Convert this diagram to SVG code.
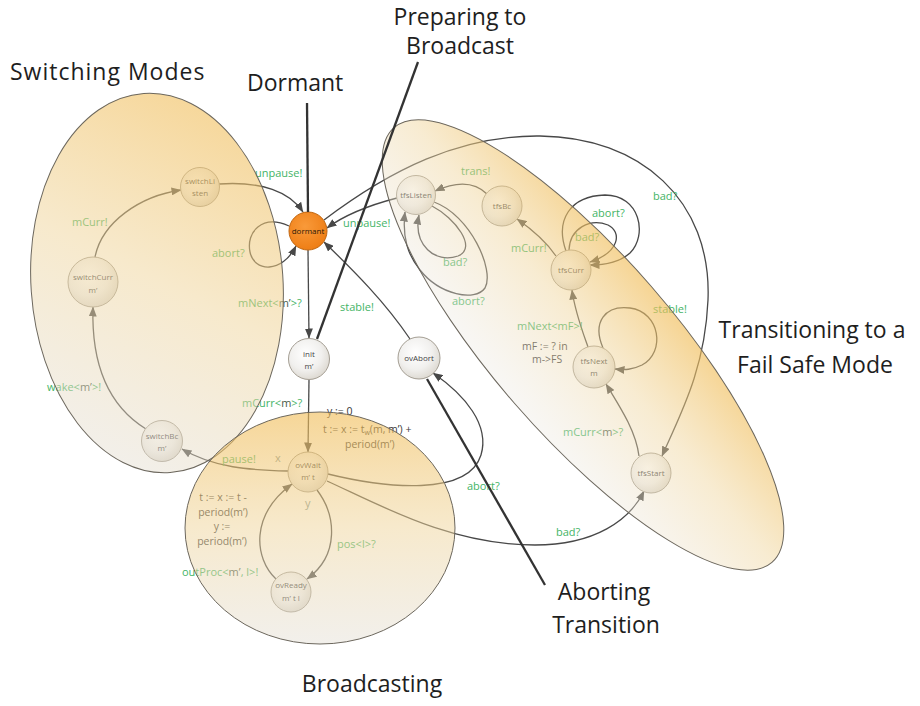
<svg xmlns="http://www.w3.org/2000/svg" width="920" height="706" viewBox="0 0 920 706">
  <defs>
    <style>
      text { font-family: "Open Sans", "DejaVu Sans", sans-serif; }
      .edge { fill: none; stroke: #484848; stroke-width: 1.3; marker-end: url(#arrow); }
      .lbl { font-size: 11px; fill: #44b466; }
      .dk { fill: #4a5a4a; }
      .gray { fill: #7f9696; }
      .upd { font-size: 10.5px; fill: #383838; }
      .node circle { fill: url(#nodeFill); stroke: #a49e93; stroke-width: 1; }
      .node text { font-size: 8px; fill: #454545; text-anchor: middle; }
      .region { stroke: #6c675d; stroke-width: 1; }
      .pointer { stroke: #333333; stroke-width: 2.3; fill: none; }
      .title { font-size: 23px; fill: #1e1e1e; }
    </style>
    <marker id="arrow" viewBox="0 0 10 8" refX="9.5" refY="4" markerWidth="10" markerHeight="8" markerUnits="userSpaceOnUse" orient="auto">
      <path d="M0,0 L10,4 L0,8 z" fill="#484848"/>
    </marker>
    <radialGradient id="nodeFill" cx="0.42" cy="0.38" r="0.65">
      <stop offset="0" stop-color="#ffffff"/>
      <stop offset="0.6" stop-color="#f1f0ee"/>
      <stop offset="1" stop-color="#dcd8d0"/>
    </radialGradient>
    <radialGradient id="dormantFill" cx="0.42" cy="0.38" r="0.65">
      <stop offset="0" stop-color="#f99a3a"/>
      <stop offset="1" stop-color="#ee7d14"/>
    </radialGradient>
    <linearGradient id="gSwitch" x1="0.7" y1="0" x2="0.3" y2="1">
      <stop offset="0" stop-color="#f1bd58" stop-opacity="0.62"/>
      <stop offset="0.5" stop-color="#efd49a" stop-opacity="0.5"/>
      <stop offset="1" stop-color="#e2ddd3" stop-opacity="0.45"/>
    </linearGradient>
    <linearGradient id="gBroad" x1="0.5" y1="0" x2="0.5" y2="1">
      <stop offset="0" stop-color="#f1bd58" stop-opacity="0.62"/>
      <stop offset="0.5" stop-color="#efd49a" stop-opacity="0.5"/>
      <stop offset="1" stop-color="#e2ddd3" stop-opacity="0.45"/>
    </linearGradient>
    <linearGradient id="gTfs" x1="0.55" y1="0" x2="0.45" y2="1">
      <stop offset="0" stop-color="#f1bd58" stop-opacity="0.65"/>
      <stop offset="0.45" stop-color="#efd49a" stop-opacity="0.45"/>
      <stop offset="1" stop-color="#ebe8e2" stop-opacity="0.35"/>
    </linearGradient>
  </defs>

  <rect width="920" height="706" fill="#ffffff"/>

  <!-- transitions -->
  <g id="connectors">
    <path class="edge" d="M219,184 C262,181 290,192 303,212"/>
    <path class="edge" d="M289,226 C262,214 246,232 250,252 C254,272 282,274 296,246"/>
    <path class="edge" d="M95,257 C102,222 140,196 181,190"/>
    <path class="edge" d="M146,429 C112,408 91,370 93,307"/>
    <path class="edge" d="M288,471 C250,470 214,468 182,449"/>
    <path class="edge" d="M308,250 L309,338"/>
    <path class="edge" d="M309,380 L308,452"/>
    <path class="edge" d="M317,490 C336,515 340,555 307,579"/>
    <path class="edge" d="M276,579 C254,558 250,515 292,484"/>
    <path class="edge" d="M328,474 C385,488 468,497 481,455 C490,425 465,395 433,373"/>
    <path class="edge" d="M327,481 C380,505 450,545 535,545 C595,545 630,520 644,491"/>
    <path class="edge" d="M410,339 C385,302 355,272 324,242"/>
    <path class="edge" d="M397,198 C370,205 346,214 327,228"/>
    <path class="edge" d="M324,220 C390,170 460,135 540,136 C640,137 712,200 708,300 C705,370 680,415 662,456"/>
    <path class="edge" d="M487,194 C474,181 455,182 435,191"/>
    <path class="edge" d="M556,256 C545,240 530,228 517,219"/>
    <path class="edge" d="M432,206 C455,218 478,248 458,256 C435,264 413,245 419,215"/>
    <path class="edge" d="M434,202 C470,215 495,270 485,288 C475,302 440,295 420,270 C408,255 402,238 405,212"/>
    <path class="edge" d="M569,250 C570,228 590,218 608,225 C622,232 620,252 590,262"/>
    <path class="edge" d="M566,251 C555,220 570,196 605,195 C640,195 648,235 630,253 C620,262 605,265 590,265"/>
    <path class="edge" d="M588,347 C582,330 575,312 572,290"/>
    <path class="edge" d="M603,348 C592,322 605,305 630,308 C660,312 666,352 642,365 C632,370 625,370 615,369"/>
    <path class="edge" d="M639,456 C636,432 622,410 606,384"/>
  </g>

  <!-- transition labels and updates -->
  <g id="edge-labels">
    <text class="lbl" x="255" y="177">unpause!</text>
    <text class="lbl" x="212" y="257">abort?</text>
    <text class="lbl" x="72" y="226">mCurr!</text>
    <text class="lbl" x="47" y="391">wake&lt;<tspan class="dk">m’</tspan>&gt;!</text>
    <text class="lbl" x="238" y="307">mNext&lt;<tspan class="dk">m’</tspan>&gt;?</text>
    <text class="lbl" x="242" y="407">mCurr&lt;<tspan class="dk">m</tspan>&gt;?</text>
    <text class="lbl" x="222" y="463">pause!</text>
    <text class="lbl gray" x="275" y="462">x</text>
    <text class="lbl gray" x="305" y="507">y</text>
    <text class="lbl" x="337" y="548">pos&lt;l&gt;?</text>
    <text class="lbl" x="182" y="576">outProc&lt;<tspan class="dk">m’</tspan>, l&gt;!</text>
    <text class="lbl" x="340" y="311">stable!</text>
    <text class="lbl" x="343" y="227">unpause!</text>
    <text class="lbl" x="467" y="490">abort?</text>
    <text class="lbl" x="556" y="536">bad?</text>
    <text class="lbl" x="653" y="200">bad?</text>
    <text class="lbl" x="461" y="175">trans!</text>
    <text class="lbl" x="511" y="252">mCurr!</text>
    <text class="lbl" x="443" y="266">bad?</text>
    <text class="lbl" x="452" y="305">abort?</text>
    <text class="lbl" x="592" y="217">abort?</text>
    <text class="lbl" x="575" y="241">bad?</text>
    <text class="lbl" x="517" y="330">mNext&lt;mF&gt;!</text>
    <text class="lbl" x="653" y="313">stable!</text>
    <text class="lbl" x="563" y="436">mCurr&lt;<tspan class="dk">m</tspan>&gt;?</text>

    <text class="upd" x="327" y="415">y := 0</text>
    <text class="upd" x="323" y="433">t := x := t<tspan font-size="7" dy="2">w</tspan><tspan dy="-2">(m, m’) +</tspan></text>
    <text class="upd" x="345" y="448">period(m’)</text>
    <text class="upd" text-anchor="middle" x="223" y="501">t := x := t -</text>
    <text class="upd" text-anchor="middle" x="223" y="516">period(m’)</text>
    <text class="upd" text-anchor="middle" x="222" y="530">y :=</text>
    <text class="upd" text-anchor="middle" x="222" y="545">period(m’)</text>
    <text class="upd" x="522" y="350">mF := ? in</text>
    <text class="upd" x="532" y="363">m-&gt;FS</text>
  </g>

  <!-- states -->
  <g id="dormant" class="node">
    <circle cx="308" cy="231" r="19" style="fill:url(#dormantFill);stroke:#c0650e"/>
    <text x="308" y="234" style="fill:#2a1a0a">dormant</text>
  </g>
  <g id="switchListen" class="node">
    <circle cx="200" cy="187" r="19.5"/>
    <text x="200" y="184">switchLi</text>
    <text x="200" y="196">sten</text>
  </g>
  <g id="switchCurr" class="node">
    <circle cx="93" cy="282" r="25"/>
    <text x="93" y="280">switchCurr</text>
    <text x="93" y="293">m’</text>
  </g>
  <g id="switchBc" class="node">
    <circle cx="162" cy="441" r="20.5"/>
    <text x="162" y="439">switchBc</text>
    <text x="162" y="451">m’</text>
  </g>
  <g id="init" class="node">
    <circle cx="309" cy="359" r="20.5"/>
    <text x="309" y="357">init</text>
    <text x="309" y="369">m’</text>
  </g>
  <g id="ovAbort" class="node">
    <circle cx="419" cy="358" r="21"/>
    <text x="419" y="361">ovAbort</text>
  </g>
  <g id="ovWait" class="node">
    <circle cx="308" cy="472" r="20"/>
    <text x="308" y="468">ovWait</text>
    <text x="308" y="480">m’ t</text>
  </g>
  <g id="ovReady" class="node">
    <circle cx="291" cy="592" r="20"/>
    <text x="291" y="588">ovReady</text>
    <text x="291" y="601">m’ t l</text>
  </g>
  <g id="tfsListen" class="node">
    <circle cx="416" cy="195" r="19.5"/>
    <text x="416" y="198">tfsListen</text>
  </g>
  <g id="tfsBc" class="node">
    <circle cx="502" cy="206" r="20"/>
    <text x="502" y="209">tfsBc</text>
  </g>
  <g id="tfsCurr" class="node">
    <circle cx="571" cy="270" r="20"/>
    <text x="571" y="273">tfsCurr</text>
  </g>
  <g id="tfsNext" class="node">
    <circle cx="594" cy="367" r="21"/>
    <text x="594" y="364">tfsNext</text>
    <text x="594" y="376">m</text>
  </g>
  <g id="tfsStart" class="node">
    <circle cx="651" cy="473" r="20"/>
    <text x="651" y="476">tfsStart</text>
  </g>

  <!-- mode regions, tinted over the states -->
  <g id="switching-modes">
    <ellipse class="region" cx="0" cy="0" rx="126" ry="190" fill="url(#gSwitch)" transform="translate(157,283) rotate(-4)"/>
  </g>
  <g id="broadcasting">
    <ellipse class="region" cx="320" cy="528" rx="135" ry="116" fill="url(#gBroad)"/>
  </g>
  <g id="fail-safe">
    <ellipse class="region" cx="0" cy="0" rx="288" ry="90" fill="url(#gTfs)" transform="translate(583,345) rotate(49)"/>
  </g>

  <!-- callouts -->
  <g id="callouts">
    <path class="pointer" d="M307,103 L308,212"/>
    <path class="pointer" d="M418,62 L317,339"/>
    <path class="pointer" d="M427,379 L545,585"/>
    <text class="title" x="10" y="80" letter-spacing="1">Switching Modes</text>
    <text class="title" x="247" y="91">Dormant</text>
    <text class="title" x="460" y="25" text-anchor="middle">Preparing to</text>
    <text class="title" x="460" y="54" text-anchor="middle">Broadcast</text>
    <text class="title" x="812" y="338" text-anchor="middle">Transitioning to a</text>
    <text class="title" x="815" y="373" text-anchor="middle">Fail Safe Mode</text>
    <text class="title" x="604" y="600" text-anchor="middle">Aborting</text>
    <text class="title" x="606" y="633" text-anchor="middle">Transition</text>
    <text class="title" x="372" y="692" text-anchor="middle">Broadcasting</text>
  </g>
</svg>
